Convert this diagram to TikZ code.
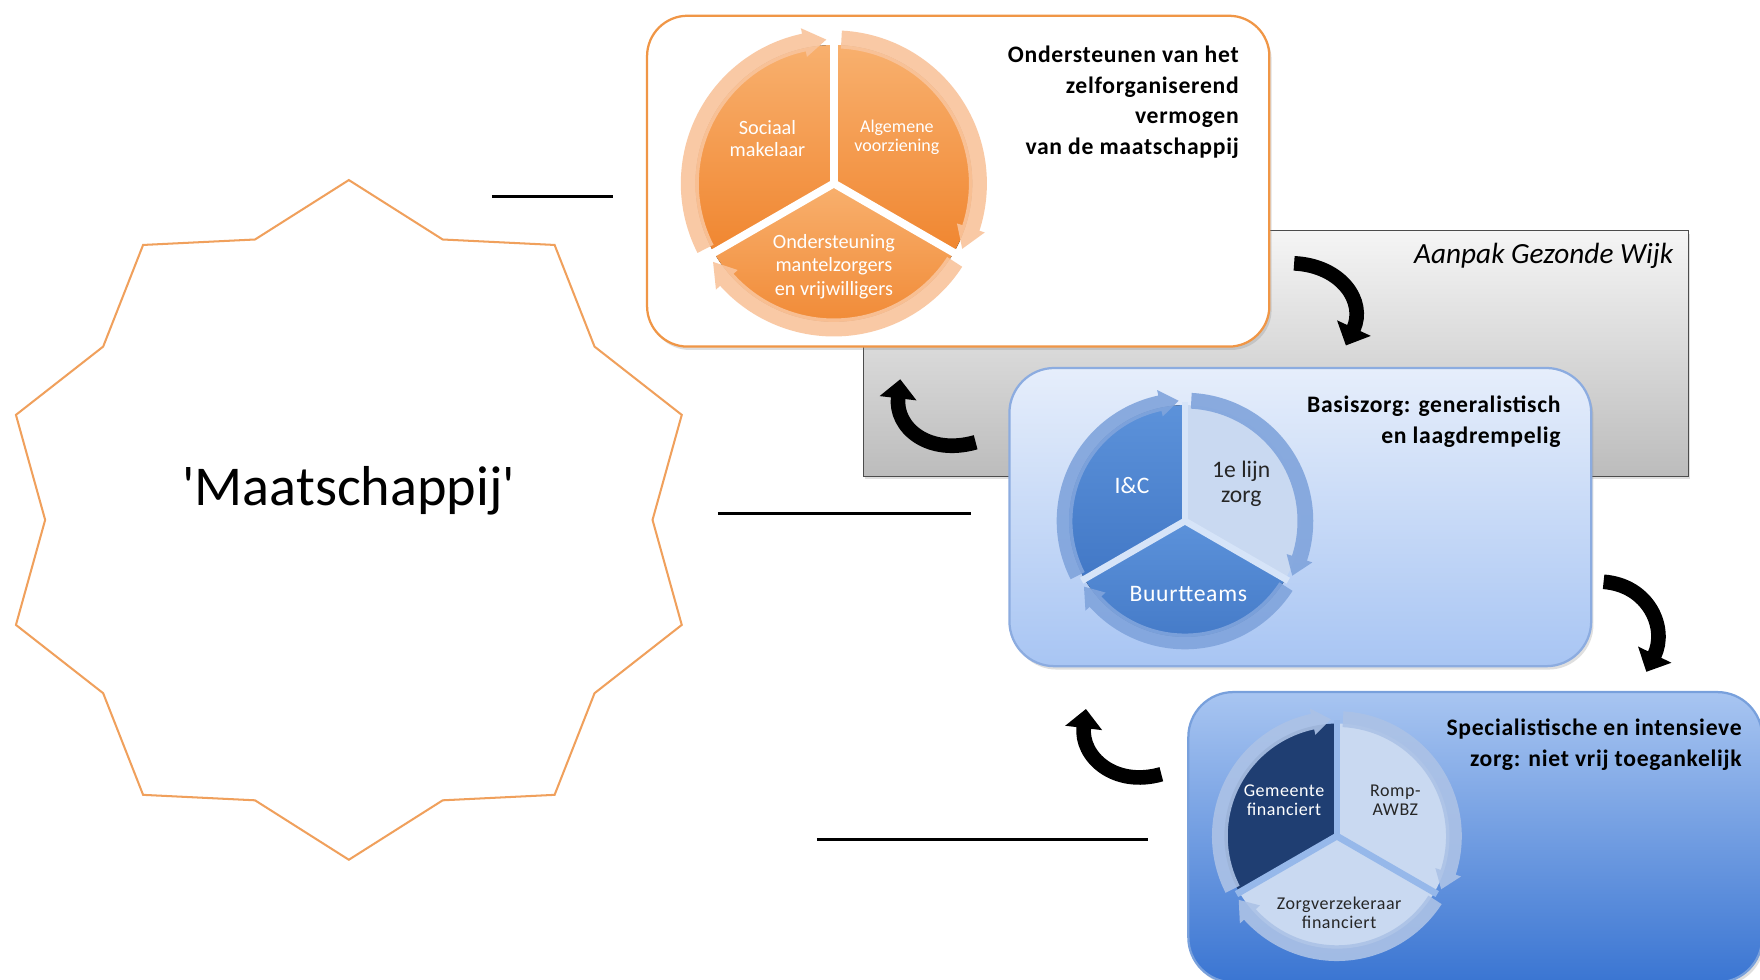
\documentclass[tikz,border=0pt]{standalone}
\usepackage{fontspec}
\setmainfont{Carlito}[Ligatures=TeXOff]
\usetikzlibrary{arrows.meta,shadows}
\definecolor{starorange}{RGB}{240,160,92}
\definecolor{boxorange}{RGB}{240,150,70}
\definecolor{wtop}{RGB}{248,176,110}
\definecolor{wbot}{RGB}{240,134,48}
\definecolor{oband}{RGB}{249,196,156}
\definecolor{graytop}{RGB}{245,245,245}
\definecolor{graybot}{RGB}{188,188,188}
\definecolor{bonetop}{RGB}{230,238,251}
\definecolor{bonebot}{RGB}{168,197,243}
\definecolor{boneborder}{RGB}{140,172,224}
\definecolor{btwotop}{RGB}{168,197,241}
\definecolor{btwobot}{RGB}{58,117,210}
\definecolor{btwoborder}{RGB}{120,160,220}
\definecolor{bmedtop}{RGB}{92,146,218}
\definecolor{bmedbot}{RGB}{66,120,198}
\definecolor{blight}{RGB}{201,217,241}
\definecolor{bband}{RGB}{128,164,220}
\definecolor{bdark}{RGB}{31,62,114}
\definecolor{bband2}{RGB}{172,194,230}
\definecolor{gapone}{RGB}{214,228,248}
\definecolor{gaptwo}{RGB}{150,184,234}

% wedge: style, start (visual deg), end (visual deg), radius
\newcommand\segwedge[4]{%
  \pgfmathsetmacro\wsa{-(#2)}\pgfmathsetmacro\wea{-(#3)}%
  \fill[#1] (0,0) -- (\wsa:#4) arc[start angle=\wsa, end angle=\wea, radius=#4] -- cycle;}
% band arrow (clockwise): style, tail angle, tip angle, r inner, r outer
\newcommand\bandarrow[5]{%
  \pgfmathsetmacro\ta{-(#2)}\pgfmathsetmacro\tp{-(#3)}\pgfmathsetmacro\hb{-(#3)-9}%
  \pgfmathsetmacro\rmid{(#4+#5)/2}\pgfmathsetmacro\ro{#5+5}\pgfmathsetmacro\ri{#4-5}%
  \fill[#1] (\ta:#4) -- (\ta:#5) arc[start angle=\ta, end angle=\hb, radius=#5]
    -- (\hb:\ro) -- (\tp:\rmid) -- (\hb:\ri) -- (\hb:#4)
    arc[start angle=\hb, end angle=\ta, radius=#4] -- cycle;}
% gaps: colour, radius, width
\newcommand\seggaps[3]{\foreach \ga in {-90,-210,-330}{\draw[#1, line width=#3] (0,0) -- (\ga:#2);}}

\begin{document}
\begin{tikzpicture}[x=1pt,y=-1pt,
  starline/.style={draw=starorange, line width=1.8pt, line join=miter},
  hline/.style={line width=2.6pt, black},
  bigarrow/.style={line width=13pt, black, -{Triangle[length=17pt,width=32pt]}},
  softshadow/.style={drop shadow={opacity=0.25, shadow xshift=2pt, shadow yshift=-3pt}},
  titletext/.style={font=\bfseries\fontsize{21}{27}\selectfont\addfontfeatures{LetterSpace=3}, align=right, anchor=north east, inner sep=0pt},
  seglabel/.style={align=center, inner sep=0pt},
  orangebox/.style={draw=boxorange, line width=2pt, fill=white, rounded corners=36pt, softshadow},
  graybox/.style={draw=black!70, line width=0.8pt, top color=graytop, bottom color=graybot, softshadow},
  blueonebox/.style={draw=boneborder, line width=2pt, top color=bonetop, bottom color=bonebot, rounded corners=40pt, softshadow},
  bluetwobox/.style={draw=btwoborder, line width=2pt, top color=btwotop, bottom color=btwobot, rounded corners=40pt, softshadow}
]
\useasboundingbox (0,0) rectangle (1564,870);
\fill[white] (0,0) rectangle (1564,870);

% star
\draw[starline] (310,160) \foreach \i in {1,...,19}{
  -- ({310+1.03*(mod(\i,2)==1?262:302)*cos(90+18*\i)}, {462-(mod(\i,2)==1?262:302)*sin(90+18*\i)}) } -- cycle;
\node[inner sep=0pt] (maat) at (310,436) {\fontsize{50}{54}\selectfont 'Maatschappij'};

% lines
\coordinate (l1a) at (437,175); \coordinate (l1b) at (545,175);
\coordinate (l2a) at (638,456); \coordinate (l2b) at (863,456);
\coordinate (l3a) at (726,746); \coordinate (l3b) at (1020,746);
\draw[hline] (l1a) -- (l1b);
\draw[hline] (l2a) -- (l2b);
\draw[hline] (l3a) -- (l3b);

% gray box
\node[graybox, minimum width=733pt, minimum height=218pt, inner sep=0pt] (gray) at (1133.5,314) {};
\node[anchor=north east, inner sep=0pt, font=\itshape\fontsize{26}{30}\selectfont] (aanpak) at (1487,216) {Aanpak Gezonde Wijk};

% orange box
\node[orangebox, minimum width=553pt, minimum height=294pt, inner sep=0pt] (obox) at (851.5,161) {};
\node[titletext] (otitle) at (1101,41) {Ondersteunen van het\\zelforganiserend\\vermogen\\van de maatschappij};

\begin{scope}[shift={(741,163)}]
  \segwedge{top color=wtop, bottom color=wbot}{90}{210}{123}
  \segwedge{top color=wtop, bottom color=wbot}{-30}{90}{123}
  \segwedge{top color=wtop, bottom color=wbot}{210}{330}{123}
  \seggaps{white}{127}{7pt}
  \bandarrow{oband, opacity=0.9}{207}{93}{120}{136}
  \bandarrow{oband, opacity=0.9}{87}{-27}{120}{136}
  \bandarrow{oband, opacity=0.9}{327}{213}{120}{136}
\end{scope}
\node[seglabel, text=white, font=\fontsize{18}{20}\selectfont] (soc) at (682,123) {Sociaal\\makelaar};
\node[seglabel, text=white, font=\fontsize{16}{17}\selectfont] (alg) at (797,122) {Algemene\\voorziening};
\node[seglabel, text=white, font=\fontsize{18}{20.5}\selectfont] (ond) at (741,237) {Ondersteuning\\mantelzorgers\\en vrijwilligers};

% blue box 1
\node[blueonebox, minimum width=517pt, minimum height=265pt, inner sep=0pt] (bone) at (1155.5,459.5) {};
\node[titletext] (btitle) at (1387,352) {Basiszorg: generalistisch\\en laagdrempelig};
\begin{scope}[shift={(1053,463)}]
  \segwedge{top color=bmedtop, bottom color=bmedbot}{90}{210}{103}
  \segwedge{fill=blight}{-30}{90}{103}
  \segwedge{top color=bmedtop, bottom color=bmedbot}{210}{330}{103}
  \seggaps{gapone}{106}{6pt}
  \bandarrow{bband, opacity=0.9}{207}{93}{100}{114}
  \bandarrow{bband, opacity=0.9}{87}{-27}{100}{114}
  \bandarrow{bband, opacity=0.9}{327}{213}{100}{114}
\end{scope}
\node[seglabel, text=white, font=\fontsize{21}{22}\selectfont] (ic) at (1006,431) {I\&C};
\node[seglabel, text=black!85, font=\fontsize{21}{22}\selectfont] (lijn) at (1103,430) {1e lijn\\zorg};
\node[seglabel, text=white, font=\fontsize{21}{22}\selectfont\addfontfeatures{LetterSpace=3}] (buurt) at (1056,528) {Buurtteams};

% blue box 2
\node[bluetwobox, minimum width=510pt, minimum height=258pt, inner sep=0pt] (btwo) at (1311,744) {};
\node[titletext] (stitle) at (1548,639) {Specialistische en intensieve\\zorg: niet vrij toegankelijk};
\begin{scope}[shift={(1188,743)}]
  \segwedge{fill=bdark}{90}{210}{100}
  \segwedge{fill=blight}{-30}{90}{100}
  \segwedge{fill=blight}{210}{330}{100}
  \seggaps{gaptwo}{103}{6pt}
  \bandarrow{bband2, opacity=0.9}{207}{93}{97}{111}
  \bandarrow{bband2, opacity=0.9}{87}{-27}{97}{111}
  \bandarrow{bband2, opacity=0.9}{327}{213}{97}{111}
\end{scope}
\node[seglabel, text=white, font=\fontsize{16}{17}\selectfont\addfontfeatures{LetterSpace=3}] (gem) at (1141,711) {Gemeente\\financiert};
\node[seglabel, text=black!85, font=\fontsize{16}{17}\selectfont\addfontfeatures{LetterSpace=3}] (romp) at (1240,711) {Romp-\\AWBZ};
\node[seglabel, text=black!85, font=\fontsize{16}{17}\selectfont\addfontfeatures{LetterSpace=3}] (zorgv) at (1190,811) {Zorgverzekeraar\\financiert};

% curved arrows
\coordinate (a1s) at (1150,234); \coordinate (a1e) at (1196,307);
\coordinate (a2s) at (867,393);  \coordinate (a2e) at (800,337);
\coordinate (a3s) at (1425,517); \coordinate (a3e) at (1463,597);
\coordinate (a4s) at (1032,688); \coordinate (a4e) at (965,630);
\draw[bigarrow] (a1s) .. controls (1192,236) and (1214,268) .. (a1e);
\draw[bigarrow] (a2s) .. controls (825,405) and (795,380) .. (a2e);
\draw[bigarrow] (a3s) .. controls (1465,520) and (1482,558) .. (a3e);
\draw[bigarrow] (a4s) .. controls (990,700) and (960,672) .. (a4e);
\end{tikzpicture}
\end{document}
